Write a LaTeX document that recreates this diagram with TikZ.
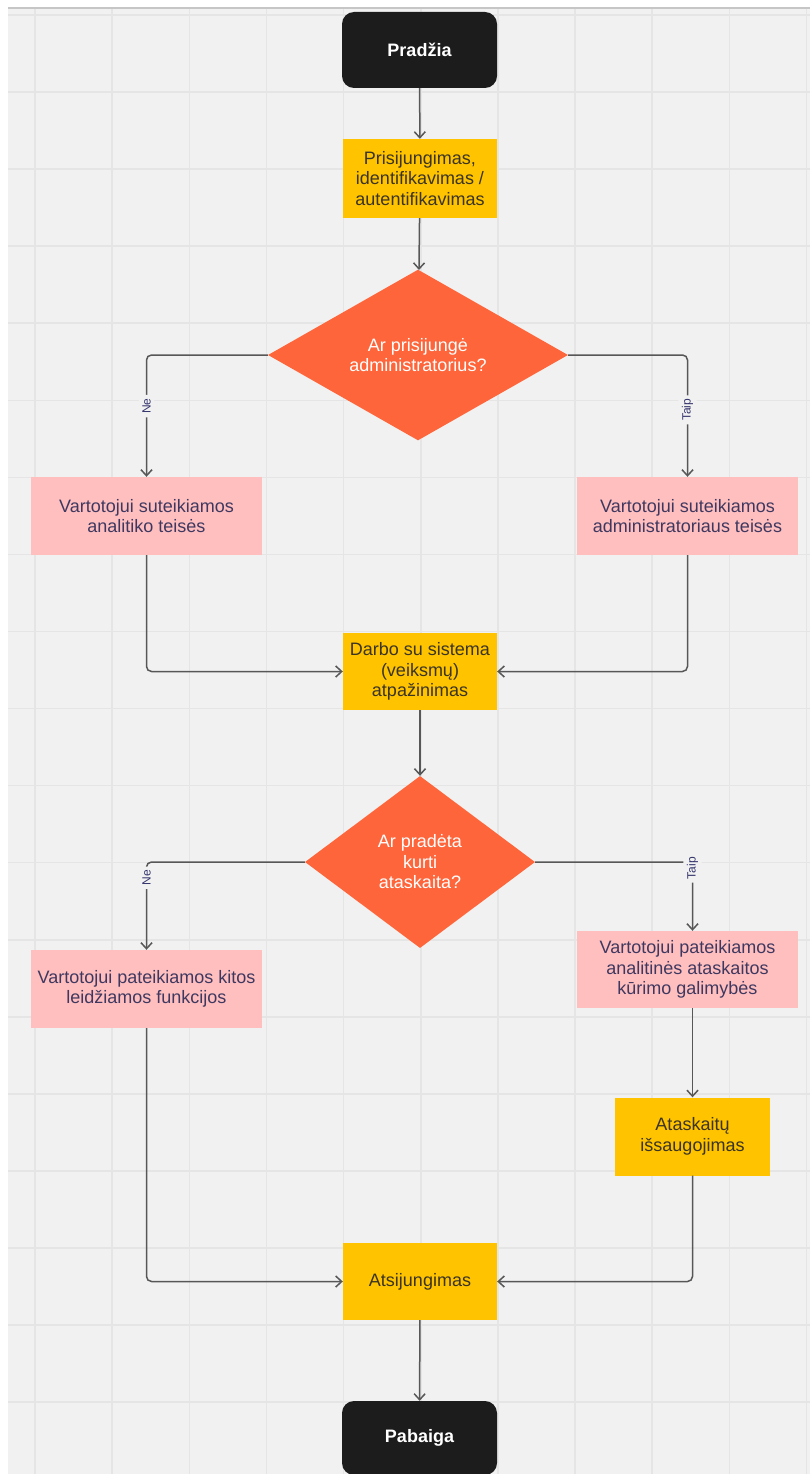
\documentclass[tikz,border=0pt]{standalone}
\usepackage{fontspec}
\setmainfont{Liberation Sans}
\usetikzlibrary{arrows.meta,shapes.geometric}

\definecolor{canvasbg}{HTML}{F1F1F1}
\definecolor{gridline}{HTML}{E5E5E5}
\definecolor{termfill}{HTML}{1C1C1C}
\definecolor{procfill}{HTML}{FFC300}
\definecolor{proctext}{HTML}{3A3424}
\definecolor{infofill}{HTML}{FFBFBF}
\definecolor{infotext}{HTML}{3E3860}
\definecolor{decfill}{HTML}{FF653A}
\definecolor{linkcol}{HTML}{575757}
\definecolor{lblcol}{HTML}{35356E}

\tikzset{
  basefont/.style={font=\fontsize{18}{20.5}\selectfont},
  term/.style={basefont, rounded corners=12pt, fill=termfill, text=white,
    minimum width=155pt, minimum height=76pt, inner sep=0pt,
    font=\bfseries\fontsize{18}{20.5}\selectfont},
  proc/.style={basefont, fill=procfill, text=proctext, align=center,
    minimum width=154pt, minimum height=78pt, inner sep=0pt},
  info/.style={basefont, fill=infofill, text=infotext, align=center,
    minimum height=78pt, inner sep=0pt},
  decision/.style={basefont, diamond, fill=decfill, text=white, align=center,
    inner sep=0pt},
  conn/.style={draw=linkcol, line width=1.5pt, rounded corners=5pt,
    -{Straight Barb[length=6pt,width=11pt,line width=1.5pt]}},
  lbl/.style={fill=canvasbg, text=lblcol, rotate=90, inner sep=3.5pt,
    font=\fontsize{12}{13}\selectfont},
}

\begin{document}
\begin{tikzpicture}[x=1pt,y=-1pt]
  \useasboundingbox (0,0) rectangle (810,1474);

  % canvas with grid
  \fill[white] (0,0) rectangle (810,1474);
  \fill[canvasbg] (8,8) rectangle (810,1474);
  \foreach \i in {0,...,10} {
    \draw[gridline, line width=1.6pt] (35+77.15*\i,8) -- (35+77.15*\i,1474);
  }
  \foreach \j in {0,...,18} {
    \draw[gridline, line width=1.6pt] (8,15+77.06*\j) -- (810,15+77.06*\j);
  }
  \draw[gray!45, line width=1.2pt] (8,8) -- (810,8);

  % nodes
  \node[term] (start) at (419.5,50) {Pradžia};
  \node[proc, minimum height=79pt] (login) at (420,178.5)
    {Prisijungimas,\\identifikavimas /\\autentifikavimas};
  \node[decision, minimum width=300pt, minimum height=170pt] (d1) at (418,355)
    {Ar prisijungė\\administratorius?};
  \node[info, minimum width=231pt] (analyst) at (146.5,516)
    {Vartotojui suteikiamos\\analitiko teisės};
  \node[info, minimum width=221pt] (admin) at (687.5,516)
    {Vartotojui suteikiamos\\administratoriaus teisės};
  \node[proc, minimum height=77pt] (work) at (420,671.5)
    {Darbo su sistema\\(veiksmų)\\atpažinimas};
  \node[decision, minimum width=230pt, minimum height=172pt] (d2) at (420,862)
    {Ar pradėta\\kurti\\ataskaita?};
  \node[info, minimum width=231pt] (otherfn) at (146.5,989)
    {Vartotojui pateikiamos kitos\\leidžiamos funkcijos};
  \node[info, minimum width=221pt, minimum height=77pt] (reportopts) at (687.5,969.5)
    {Vartotojui pateikiamos\\analitinės ataskaitos\\kūrimo galimybės};
  \node[proc, minimum width=155pt] (save) at (692.5,1136.5)
    {Ataskaitų\\išsaugojimas};
  \node[proc, minimum height=77pt] (logout) at (420,1281.5) {Atsijungimas};
  \node[term, minimum height=74pt] (finish) at (419.5,1438) {Pabaiga};

  % connectors
  \draw[conn] (start) -- (login);
  \draw[conn] (login) -- (d1);
  \draw[conn] (d1.west) -| node[lbl, pos=0.71] {Ne} (analyst.north);
  \draw[conn] (d1.east) -| node[lbl, pos=0.725] {Taip} (admin.north);
  \draw[conn] (analyst.south) |- (work.west);
  \draw[conn] (admin.south) |- (work.east);
  \draw[conn] (work) -- (d2);
  \draw[conn] (d2.west) -| node[lbl, pos=0.59] {Ne} (otherfn.north);
  \draw[conn] (d2.east) -| node[lbl, pos=0.545] {Taip} (save.north |- reportopts.north);
  \draw[conn] (save.north |- reportopts.south) -- (save.north);
  \draw[conn] (save.south) |- (logout.east);
  \draw[conn] (otherfn.south) |- (logout.west);
  \draw[conn] (logout) -- (finish);
\end{tikzpicture}
\end{document}
